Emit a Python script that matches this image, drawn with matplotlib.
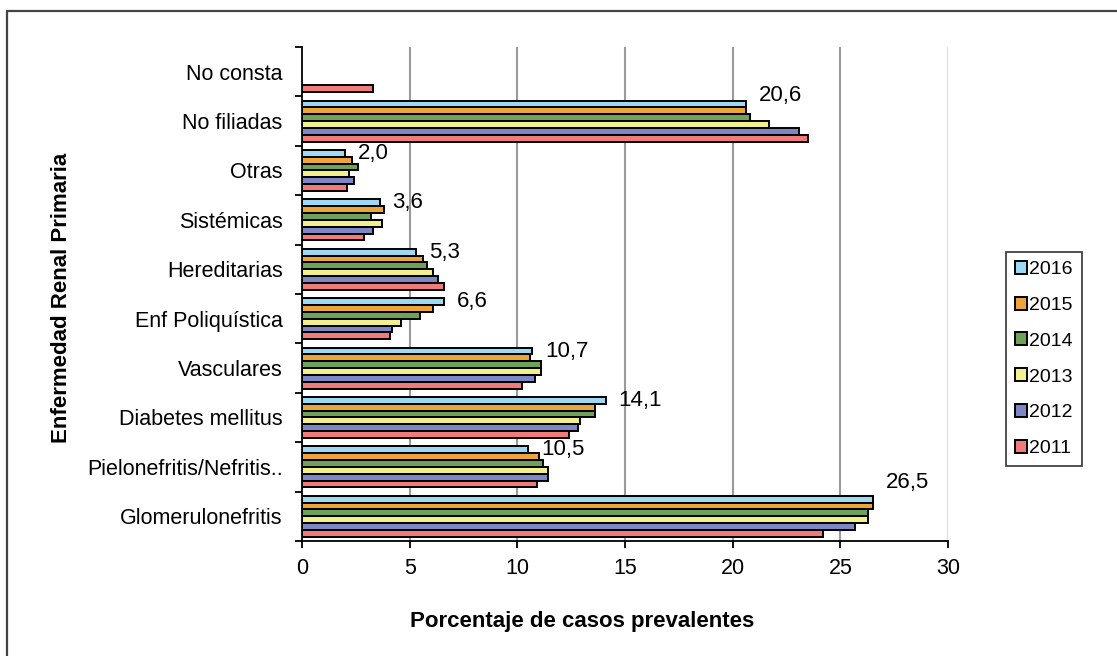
import numpy as np
import matplotlib.pyplot as plt
from matplotlib.patches import Rectangle

plt.rcParams['font.family'] = ['Liberation Sans', 'DejaVu Sans']

categories = ['Glomerulonefritis', 'Pielonefritis/Nefritis..', 'Diabetes mellitus',
              'Vasculares', 'Enf Poliquística', 'Hereditarias', 'Sistémicas',
              'Otras', 'No filiadas', 'No consta']
years = ['2016', '2015', '2014', '2013', '2012', '2011']
colors = ['#9DD9F3', '#EBA53B', '#6EA25B', '#F2EF8D', '#7F86C4', '#F07B7B']

# values per year, same order as categories (nan = no bar)
v2016 = [26.5, 10.5, 14.1, 10.7, 6.6, 5.3, 3.6, 2.0, 20.6, np.nan]
v2015 = [26.5, 11.0, 13.6, 10.6, 6.1, 5.6, 3.8, 2.3, 20.6, np.nan]
v2014 = [26.3, 11.2, 13.6, 11.1, 5.5, 5.8, 3.2, 2.6, 20.8, np.nan]
v2013 = [26.3, 11.4, 12.9, 11.1, 4.6, 6.1, 3.7, 2.2, 21.7, np.nan]
v2012 = [25.7, 11.4, 12.8, 10.8, 4.2, 6.3, 3.3, 2.4, 23.1, np.nan]
v2011 = [24.2, 10.9, 12.4, 10.2, 4.1, 6.6, 2.9, 2.1, 23.5, 3.3]
series = [v2016, v2015, v2014, v2013, v2012, v2011]

fig = plt.figure(figsize=(11.17, 6.56), dpi=100)
ax = fig.add_axes([0.2704, 0.1753, 0.5783, 0.7531])

y = np.arange(len(categories))
h = 0.138
for i, (vals, c, yr) in enumerate(zip(series, colors, years)):
    ax.barh(y + (2.5 - i) * h, vals, height=h, color=c, edgecolor='black',
            linewidth=1.4, label=yr, zorder=3)

# data labels for 2016 series
label_dy = [0.33, 0, 0, 0, 0, 0, 0, 0, 0.18, 0]
for yi, v, dy in zip(y, v2016, label_dy):
    if np.isnan(v):
        continue
    ax.text(v + 0.6, yi + 2.5 * h + dy, f'{v:.1f}'.replace('.', ','),
            ha='left', va='center', fontsize=16, zorder=4)

ax.set_xlim(0, 30)
ax.set_ylim(-0.5, len(categories) - 0.5)
ax.set_xticks(range(0, 31, 5))
ax.tick_params(axis='x', labelsize=15.5, length=5, width=1.3, direction='out', pad=7)
ax.set_yticks(y)
ax.set_yticklabels(categories)
ax.tick_params(axis='y', which='major', length=0, labelsize=15.5, pad=14)
ax.set_yticks(np.arange(-0.5, len(categories)), minor=True)
ax.tick_params(axis='y', which='minor', length=5, width=1.3, direction='out')

for xv in range(5, 30, 5):
    ax.axvline(xv, color='#9a9a9a', linewidth=1.5, zorder=1)
ax.axvline(30, color='#dcdcdc', linewidth=1.5, zorder=1)

for s in ['top', 'right']:
    ax.spines[s].set_visible(False)
for s in ['left', 'bottom']:
    ax.spines[s].set_linewidth(1.3)
    ax.spines[s].set_zorder(5)

fig.text(582 / 1117, 1 - 622 / 656, 'Porcentaje de casos prevalentes',
         ha='center', va='center', fontsize=16, fontweight='bold')
fig.text(62 / 1117, 1 - 298 / 656, 'Enfermedad Renal Primaria', rotation=90,
         ha='center', va='center', fontsize=16, fontweight='bold')

leg = ax.legend(loc='center left', bbox_to_anchor=(1006 / 1117, 1 - 359 / 656),
                bbox_transform=fig.transFigure, fontsize=14, frameon=True,
                fancybox=False, edgecolor='black', handlelength=0.65,
                handleheight=0.65, handletextpad=0.1, labelspacing=0.95,
                borderpad=0.45, borderaxespad=0)
leg.get_frame().set_linewidth(1.2)

# outer chart frame (only left and top edges fall inside the image)
fig.patches.append(Rectangle((6.5 / 1117, -10 / 656), 1130 / 1117, 655 / 656,
                             transform=fig.transFigure, fill=False,
                             edgecolor='#444444', linewidth=1.6))

fig.savefig('out.png', dpi=100)
